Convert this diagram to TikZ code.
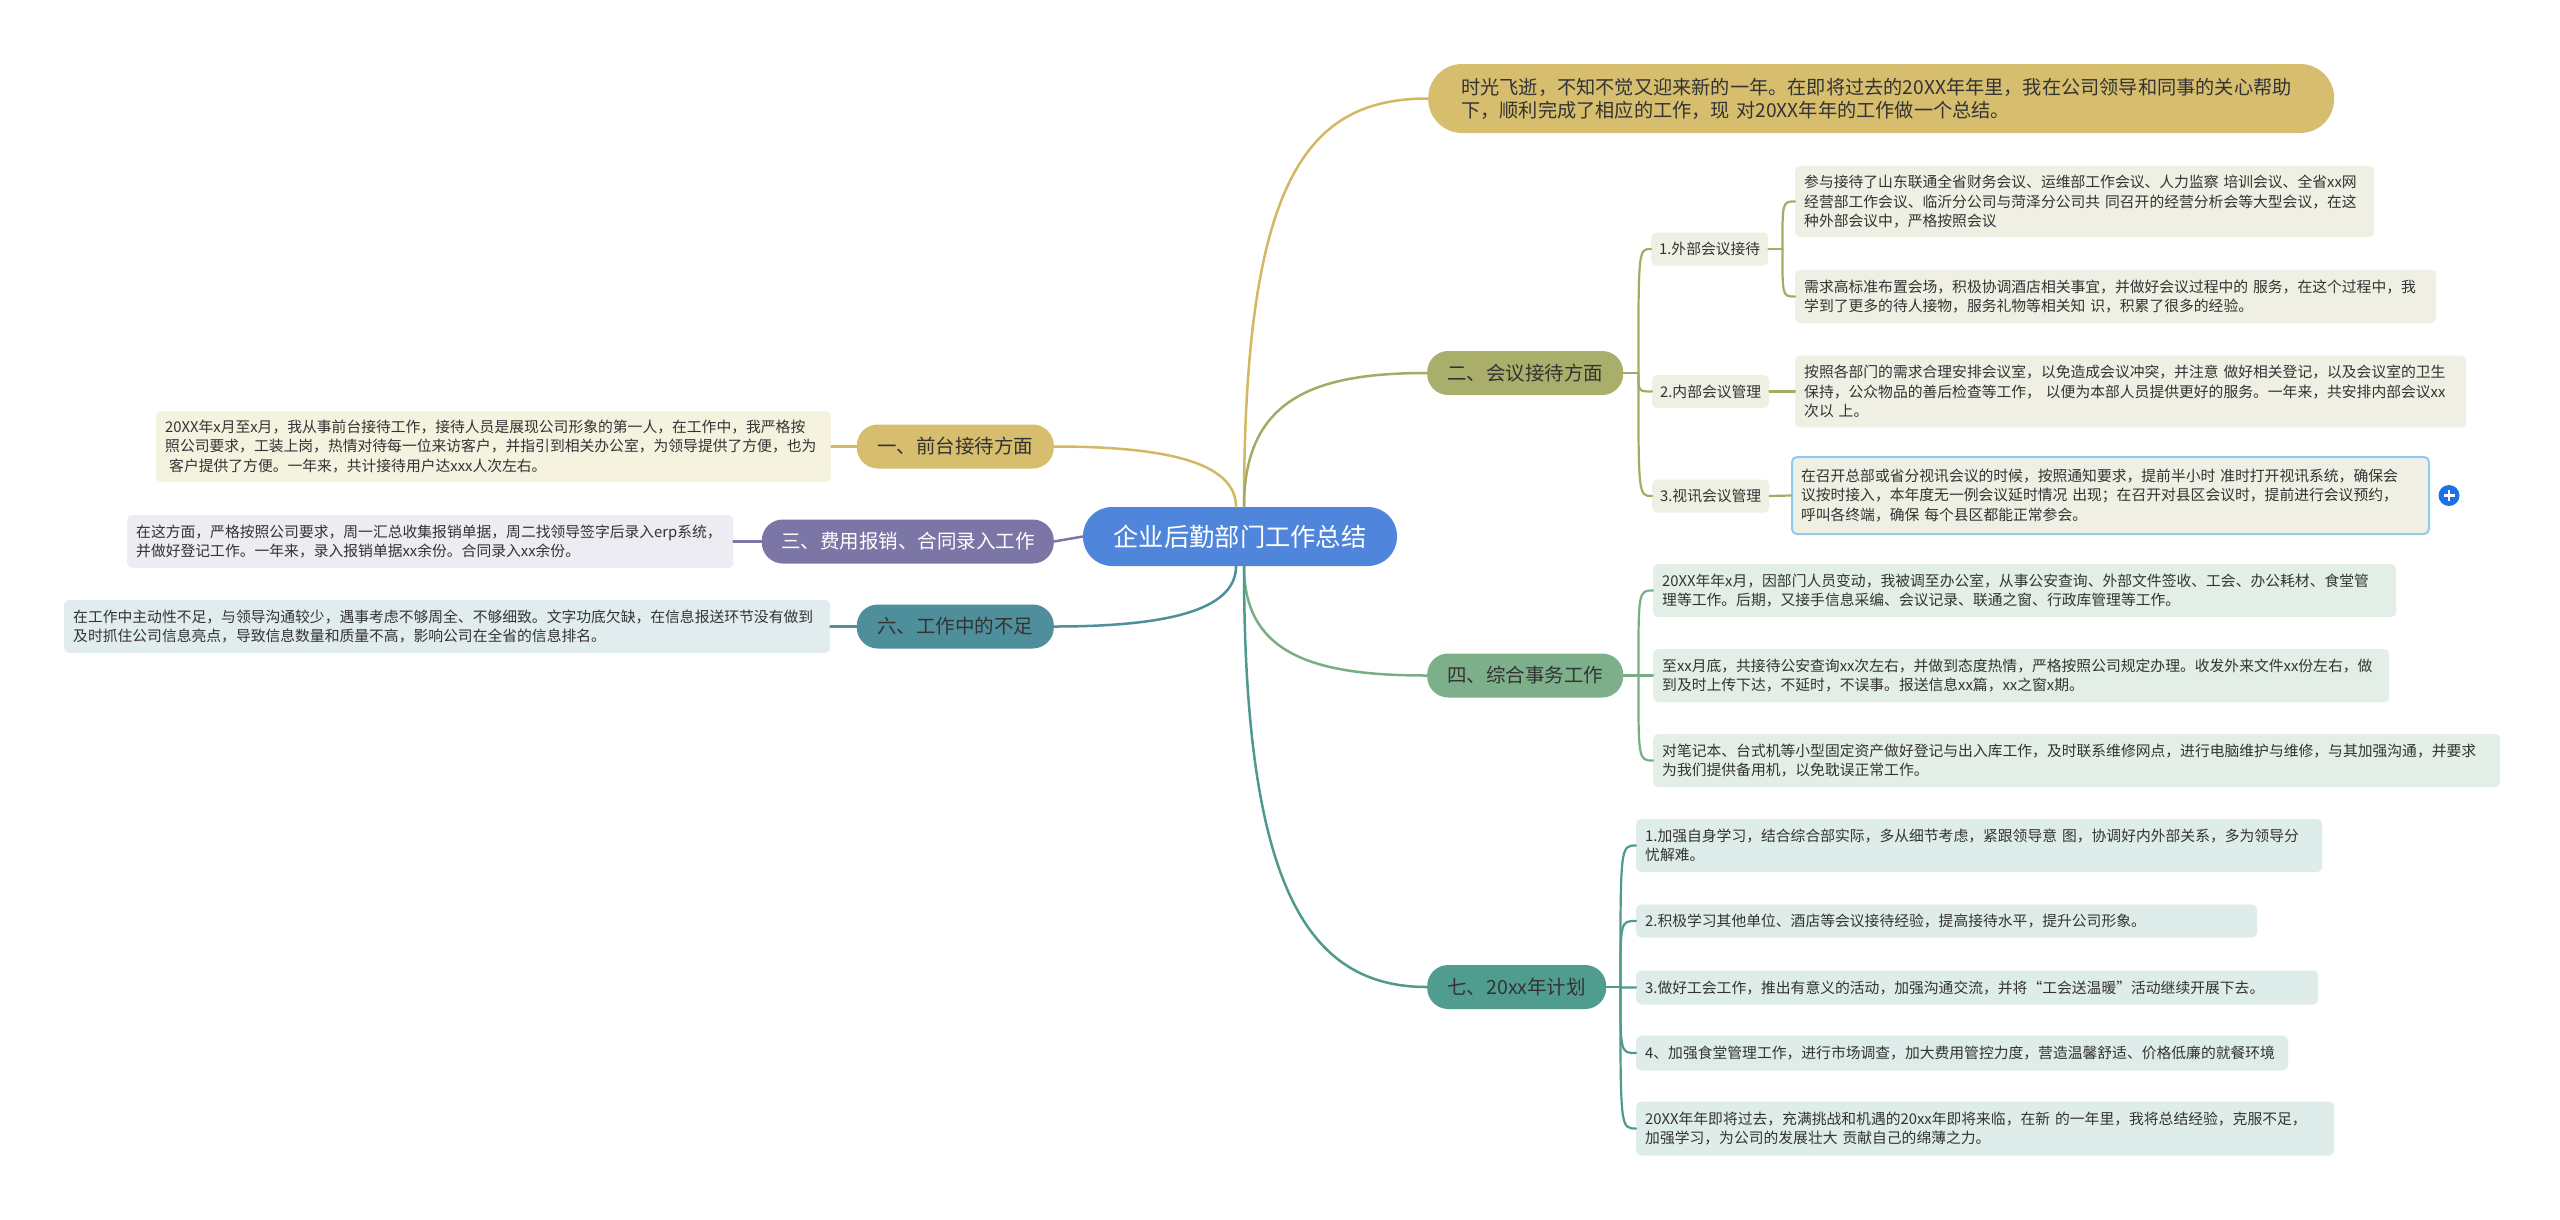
\documentclass[tikz,border=0pt]{standalone}
\usepackage{fontspec}
\setmainfont{Noto Sans CJK SC}
\usetikzlibrary{calc}
\definecolor{txt}{HTML}{333333}
\definecolor{cblue}{HTML}{4F85DA}
\definecolor{goldf}{HTML}{D6BE6E}
\definecolor{goldl}{HTML}{D2B865}
\definecolor{olivef}{HTML}{A9AE6B}
\definecolor{olivel}{HTML}{A5AB62}
\definecolor{greenf}{HTML}{7DB08A}
\definecolor{greenl}{HTML}{78AE86}
\definecolor{tealsf}{HTML}{509D90}
\definecolor{tealsl}{HTML}{4E9A8E}
\definecolor{purpf}{HTML}{7B76A6}
\definecolor{purpl}{HTML}{7C77A6}
\definecolor{tealbf}{HTML}{4F8F9C}
\definecolor{tealbl}{HTML}{4F8E9B}
\definecolor{lf1}{HTML}{F6F2E0}
\definecolor{lf3}{HTML}{ECECF2}
\definecolor{lf6}{HTML}{E1ECEF}
\definecolor{lf2}{HTML}{EFEFE3}
\definecolor{lf4}{HTML}{E3EEE6}
\definecolor{lf7}{HTML}{DFEDEA}
\definecolor{selblue}{HTML}{8FCBF3}
\definecolor{plusblue}{HTML}{1F6FE6}
\tikzset{
  root/.style={fill=cblue, text=white, rounded corners=29pt, minimum width=314pt,
    minimum height=59pt, inner sep=0pt, font=\fontsize{25.3}{28}\selectfont},
  branch/.style={rounded corners=21pt, minimum height=44pt, inner sep=0pt,
    font=\fontsize{19.5}{23}\selectfont, text=txt},
  subnode/.style={rounded corners=5pt, fill=lf2, minimum width=117pt, minimum height=33pt,
    inner sep=0pt, font=\fontsize{14.8}{18}\selectfont, text=txt, anchor=west},
  leaf/.style={anchor=west, align=left, inner xsep=9pt, inner ysep=0pt, rounded corners=5pt,
    font=\fontsize{14.8}{19.5}\selectfont, text=txt},
  link/.style={line width=2.5pt, line cap=round},
  sublink/.style={line width=2.2pt, line cap=round},
}
\begin{document}
\begin{tikzpicture}[x=1pt,y=-1pt]
\useasboundingbox[fill=white] (0,0) rectangle (2560,1219);

% root
\node[root] (C) at (1240,536.5) {企业后勤部门工作总结};

% main branches
\node[branch, fill=goldf, minimum width=197pt, anchor=east] (B1) at (1054,446.5) {一、前台接待方面};
\node[branch, fill=purpf, text=white, minimum width=292pt, anchor=east] (B3) at (1054,541.5) {三、费用报销、合同录入工作};
\node[branch, fill=tealbf, minimum width=197pt, anchor=east] (B6) at (1054,626.5) {六、工作中的不足};
\node[branch, fill=olivef, minimum width=196pt, anchor=west] (B2) at (1427,373) {二、会议接待方面};
\node[branch, fill=greenf, minimum width=196pt, anchor=west] (B4) at (1427,675.5) {四、综合事务工作};
\node[branch, fill=tealsf, minimum width=179pt, anchor=west] (B7) at (1427,987) {七、20xx年计划};

% summary
\node[anchor=west, fill=goldf, rounded corners=34pt, minimum height=69pt, inner xsep=33pt,
  inner ysep=0pt, text width=840pt, align=left, font=\fontsize{19.2}{23}\selectfont, text=txt] (S) at (1428,98.5)
  {时光飞逝，不知不觉又迎来新的一年。在即将过去的20XX年年里，我在公司领导和同事的关心帮助\\下，顺利完成了相应的工作，现~对20XX年年的工作做一个总结。};

% left leaves
\node[leaf, fill=lf1, text width=657pt, minimum height=71pt] (L1) at (156,446.5)
  {20XX年x月至x月，我从事前台接待工作，接待人员是展现公司形象的第一人，在工作中，我严格按\\照公司要求，工装上岗，热情对待每一位来访客户，并指引到相关办公室，为领导提供了方便，也为\\\hspace*{4pt}客户提供了方便。一年来，共计接待用户达xxx人次左右。};
\node[leaf, fill=lf3, text width=588pt, minimum height=53pt] (L3) at (127,541.5)
  {在这方面，严格按照公司要求，周一汇总收集报销单据，周二找领导签字后录入erp系统，\\并做好登记工作。一年来，录入报销单据xx余份。合同录入xx余份。};
\node[leaf, fill=lf6, text width=748pt, minimum height=53pt] (L6) at (64,626.5)
  {在工作中主动性不足，与领导沟通较少，遇事考虑不够周全、不够细致。文字功底欠缺，在信息报送环节没有做到\\及时抓住公司信息亮点，导致信息数量和质量不高，影响公司在全省的信息排名。};

% sub nodes of 二
\node[subnode] (s1) at (1651,249) {1.外部会议接待};
\node[subnode] (s2) at (1652,391.5) {2.内部会议管理};
\node[subnode] (s3) at (1652,496) {3.视讯会议管理};

% leaves of 二
\node[leaf, fill=lf2, text width=561pt, minimum height=71pt] (R1a) at (1795,201.5)
  {参与接待了山东联通全省财务会议、运维部工作会议、人力监察~培训会议、全省xx网\\经营部工作会议、临沂分公司与菏泽分公司共~同召开的经营分析会等大型会议，在这\\种外部会议中，严格按照会议};
\node[leaf, fill=lf2, text width=623pt, minimum height=53pt] (R1b) at (1795,296.5)
  {需求高标准布置会场，积极协调酒店相关事宜，并做好会议过程中的~服务，在这个过程中，我\\学到了更多的待人接物，服务礼物等相关知~识，积累了很多的经验。};
\node[leaf, fill=lf2, text width=653pt, minimum height=72pt] (R2) at (1795,391.5)
  {按照各部门的需求合理安排会议室，以免造成会议冲突，并注意~做好相关登记，以及会议室的卫生\\保持，公众物品的善后检查等工作，~以便为本部人员提供更好的服务。一年来，共安排内部会议xx\\次以~上。};
\node[leaf, fill=lf2, draw=selblue, line width=2pt, text width=619pt, minimum height=77pt] (R3) at (1791,495.5)
  {在召开总部或省分视讯会议的时候，按照通知要求，提前半小时~准时打开视讯系统，确保会\\议按时接入，本年度无一例会议延时情况~出现；在召开对县区会议时，提前进行会议预约，\\呼叫各终端，确保~每个县区都能正常参会。};
\node[circle, fill=plusblue, minimum size=21pt, inner sep=0pt] (plus) at (2449,495.5) {};
\draw[white, line width=2.4pt] ($(plus.center)+(-5.5,0)$) -- ($(plus.center)+(5.5,0)$);
\draw[white, line width=2.4pt] ($(plus.center)+(0,-5.5)$) -- ($(plus.center)+(0,5.5)$);

% leaves of 四
\node[leaf, fill=lf4, text width=725pt, minimum height=53pt] (R4a) at (1653,590.5)
  {20XX年年x月，因部门人员变动，我被调至办公室，从事公安查询、外部文件签收、工会、办公耗材、食堂管\\理等工作。后期，又接手信息采编、会议记录、联通之窗、行政库管理等工作。};
\node[leaf, fill=lf4, text width=718pt, minimum height=53pt] (R4b) at (1653,675.5)
  {至xx月底，共接待公安查询xx次左右，并做到态度热情，严格按照公司规定办理。收发外来文件xx份左右，做\\到及时上传下达，不延时，不误事。报送信息xx篇，xx之窗x期。};
\node[leaf, fill=lf4, text width=829pt, minimum height=53pt] (R4c) at (1653,760.5)
  {对笔记本、台式机等小型固定资产做好登记与出入库工作，及时联系维修网点，进行电脑维护与维修，与其加强沟通，并要求\\为我们提供备用机，以免耽误正常工作。};

% leaves of 七
\node[leaf, fill=lf7, text width=668pt, minimum height=53pt] (R7a) at (1636,845.5)
  {1.加强自身学习，结合综合部实际，多从细节考虑，紧跟领导意~图，协调好内外部关系，多为领导分\\忧解难。};
\node[leaf, fill=lf7, text width=603pt, minimum height=33pt] (R7b) at (1636,921)
  {2.积极学习其他单位、酒店等会议接待经验，提高接待水平，提升公司形象。};
\node[leaf, fill=lf7, text width=664pt, minimum height=34pt] (R7c) at (1636,987.5)
  {3.做好工会工作，推出有意义的活动，加强沟通交流，并将“工会送温暖”活动继续开展下去。};
\node[leaf, fill=lf7, text width=634pt, minimum height=35pt] (R7d) at (1636,1053)
  {4、加强食堂管理工作，进行市场调查，加大费用管控力度，营造温馨舒适、价格低廉的就餐环境};
\node[leaf, fill=lf7, text width=680pt, minimum height=54pt] (R7e) at (1636,1128.5)
  {20XX年年即将过去，充满挑战和机遇的20xx年即将来临，在新~的一年里，我将总结经验，克服不足，\\加强学习，为公司的发展壮大~贡献自己的绵薄之力。};

% root connectors
\draw[link, goldl] ([xshift=4pt]C.north) .. controls +(0,-330) and +(-120,0) .. (S.west);
\draw[link, olivel] ([xshift=4pt]C.north) .. controls +(0,-110) and +(-110,0) .. (B2.west);
\draw[link, greenl] ([xshift=4pt]C.south) .. controls +(0,90) and +(-110,0) .. (B4.west);
\draw[link, tealsl] ([xshift=4pt]C.south) .. controls +(0,320) and +(-120,0) .. (B7.west);
\draw[link, goldl] ([xshift=-4pt]C.north) .. controls +(0,-45) and +(110,0) .. (B1.east);
\draw[link, purpl] (C.west) -- (B3.east);
\draw[link, tealbl] ([xshift=-4pt]C.south) .. controls +(0,45) and +(110,0) .. (B6.east);

% left leaf connectors
\draw[sublink, goldl] (L1.east) -- (B1.west);
\draw[sublink, purpl] (L3.east) -- (B3.west);
\draw[sublink, tealbl] (L6.east) -- (B6.west);

% 二 subtree
\coordinate (J2) at ([xshift=15pt]B2.east);
\draw[sublink, olivel] (B2.east) -- (J2);
\foreach \t in {s1,s2,s3}
  \draw[sublink, olivel] (J2) .. controls (J2 |- \t.west) and (J2 |- \t.west) .. (\t.west);
\coordinate (J1) at ([xshift=14pt]s1.east);
\draw[sublink, olivel] (s1.east) -- (J1);
\foreach \t in {R1a,R1b}
  \draw[sublink, olivel] (J1) .. controls (J1 |- \t.west) and (J1 |- \t.west) .. (\t.west);
\draw[sublink, olivel] (s2.east) -- (R2.west);
\draw[sublink, olivel] (s3.east) -- (R3.west);

% 四 subtree
\coordinate (J4) at ([xshift=15pt]B4.east);
\draw[sublink, greenl] (B4.east) -- (J4);
\foreach \t in {R4a,R4b,R4c}
  \draw[sublink, greenl] (J4) .. controls (J4 |- \t.west) and (J4 |- \t.west) .. (\t.west);

% 七 subtree
\coordinate (J7) at ([xshift=14pt]B7.east);
\draw[sublink, tealsl] (B7.east) -- (J7);
\foreach \t in {R7a,R7b,R7c,R7d,R7e}
  \draw[sublink, tealsl] (J7) .. controls (J7 |- \t.west) and (J7 |- \t.west) .. (\t.west);
\end{tikzpicture}
\end{document}
